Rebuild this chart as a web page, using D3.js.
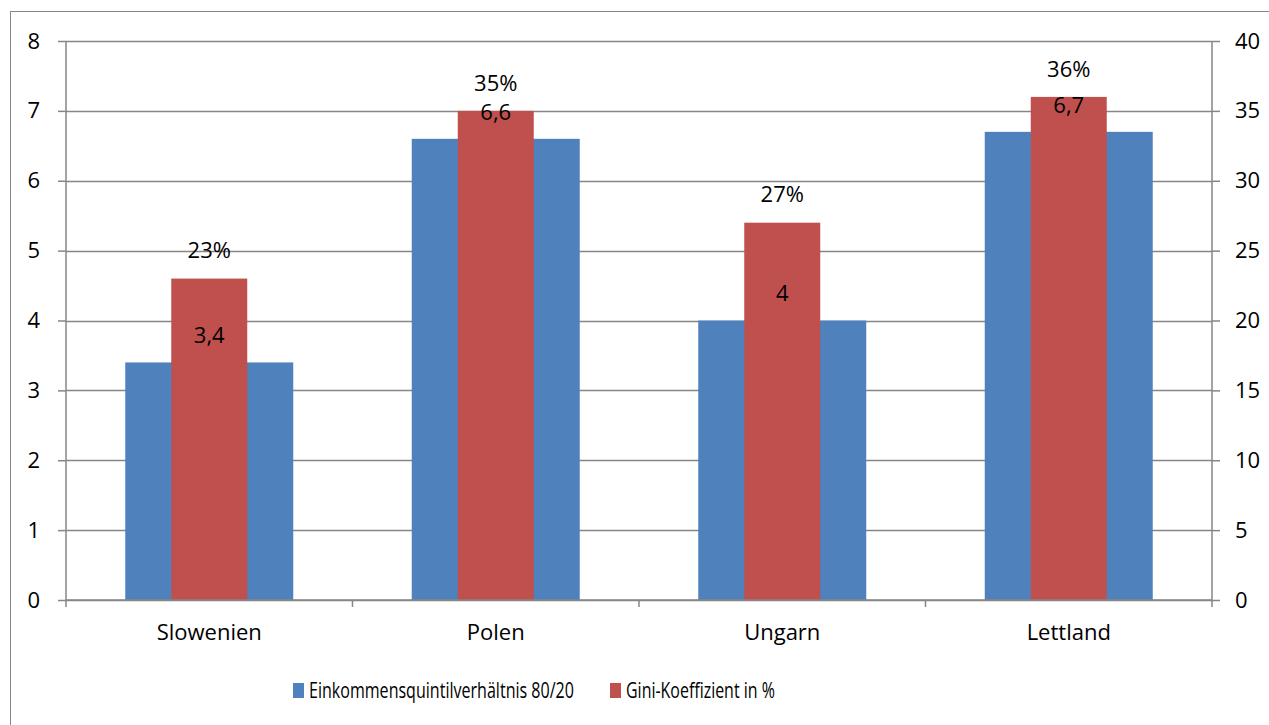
<!DOCTYPE html>
<html>
<head>
<meta charset="utf-8">
<script src="https://cdn.jsdelivr.net/npm/d3@7"></script>
<style>
  body { margin: 0; background: #fff; }
  text { font-family: "Open Sans", sans-serif; fill: #000; }
</style>
</head>
<body>
<div id="chart"></div>
<script>
const countries = ['Slowenien', 'Polen', 'Ungarn', 'Lettland'];
const quintilRatio = [3.4, 6.6, 4, 6.7];
const giniPercent = [23, 35, 27, 36];
const leftTicks = [0, 1, 2, 3, 4, 5, 6, 7, 8];
const rightTicks = [0, 5, 10, 15, 20, 25, 30, 35, 40];
const seriesNames = ['Einkommensquintilverhältnis 80/20', 'Gini-Koeffizient in %'];

const width = 1269;
const height = 725;
const margin = { top: 41, right: 57, bottom: 125, left: 66 };
const blue = '#4F81BD';
const red = '#C0504D';
const gridColor = '#868686';
const fontSize = 22;

const svg = d3.select('#chart')
  .append('svg')
  .attr('width', width)
  .attr('height', height);

// outer chart frame
svg.append('rect')
  .attr('x', 10.5)
  .attr('y', 11.5)
  .attr('width', width)
  .attr('height', height)
  .attr('fill', 'none')
  .attr('stroke', gridColor)
  .attr('stroke-width', 1);

const innerW = width - margin.left - margin.right;
const innerH = height - margin.top - margin.bottom;

const g = svg.append('g')
  .attr('transform', `translate(${margin.left},${margin.top})`);

const x = d3.scaleBand()
  .domain(countries)
  .range([0, innerW]);

const yLeft = d3.scaleLinear().domain([0, 8]).range([innerH, 0]);
const yRight = d3.scaleLinear().domain([0, 40]).range([innerH, 0]);

// gridlines
g.selectAll('.grid')
  .data(leftTicks)
  .enter()
  .append('line')
  .attr('x1', 0)
  .attr('x2', innerW)
  .attr('y1', (d) => Math.round(yLeft(d)) + 0.5)
  .attr('y2', (d) => Math.round(yLeft(d)) + 0.5)
  .attr('stroke', gridColor)
  .attr('stroke-width', 1.5);

// bars: blue wide bar, red narrow bar on top
const blueW = 168;
const redW = 76;

g.selectAll('.blueBar')
  .data(countries)
  .enter()
  .append('rect')
  .attr('x', (d) => x(d) + x.bandwidth() / 2 - blueW / 2)
  .attr('y', (d, i) => yLeft(quintilRatio[i]))
  .attr('width', blueW)
  .attr('height', (d, i) => innerH - yLeft(quintilRatio[i]))
  .attr('fill', blue);

g.selectAll('.redBar')
  .data(countries)
  .enter()
  .append('rect')
  .attr('x', (d) => x(d) + x.bandwidth() / 2 - redW / 2)
  .attr('y', (d, i) => yRight(giniPercent[i]))
  .attr('width', redW)
  .attr('height', (d, i) => innerH - yRight(giniPercent[i]))
  .attr('fill', red);

// data labels
g.selectAll('.blueLabel')
  .data(countries)
  .enter()
  .append('text')
  .attr('x', (d) => x(d) + x.bandwidth() / 2)
  .attr('y', (d, i) => yLeft(quintilRatio[i]) - 27)
  .attr('dy', '0.35em')
  .attr('text-anchor', 'middle')
  .style('font-size', `${fontSize}px`)
  .text((d, i) => String(quintilRatio[i]).replace('.', ','));

g.selectAll('.redLabel')
  .data(countries)
  .enter()
  .append('text')
  .attr('x', (d) => x(d) + x.bandwidth() / 2)
  .attr('y', (d, i) => yRight(giniPercent[i]) - 28)
  .attr('dy', '0.35em')
  .attr('text-anchor', 'middle')
  .style('font-size', `${fontSize}px`)
  .text((d, i) => `${giniPercent[i]}%`);

// axes
const leftAxis = g.append('g')
  .call(d3.axisLeft(yLeft).tickValues(leftTicks).tickSize(8).tickPadding(18));
const rightAxis = g.append('g')
  .attr('transform', `translate(${innerW},0)`)
  .call(d3.axisRight(yRight).tickValues(rightTicks).tickSize(8).tickPadding(15));
const bottomAxis = g.append('g')
  .attr('transform', `translate(0,${innerH})`)
  .call(d3.axisBottom(x).tickSize(0).tickPadding(24));

// category separator ticks
g.selectAll('.sepTick')
  .data(d3.range(countries.length + 1))
  .enter()
  .append('line')
  .attr('x1', (d) => d * x.bandwidth())
  .attr('x2', (d) => d * x.bandwidth())
  .attr('y1', innerH)
  .attr('y2', innerH + 7)
  .attr('stroke', gridColor)
  .attr('stroke-width', 1.5);

[leftAxis, rightAxis, bottomAxis].forEach((a) => {
  a.selectAll('path, line').attr('stroke', gridColor).attr('stroke-width', 1.5);
  a.selectAll('text')
    .style('font-size', `${fontSize}px`)
    .style('font-family', '"Open Sans", sans-serif')
    .attr('fill', '#000');
});
leftAxis.select('.domain').attr('d', `M0,0V${innerH}`);
rightAxis.select('.domain').attr('d', `M0,0V${innerH}`);
bottomAxis.select('.domain').attr('d', `M0,0H${innerW}`);

// legend (text is horizontally condensed in the original)
const legend = svg.append('g')
  .attr('transform', 'translate(293,691)');
const legendX = [0, 317];
const legendTextW = [265, 149];
const legendColors = [blue, red];
seriesNames.forEach((name, i) => {
  legend.append('rect')
    .attr('x', legendX[i])
    .attr('y', -8)
    .attr('width', 11)
    .attr('height', 15)
    .attr('fill', legendColors[i]);
  const holder = legend.append('g');
  const t = holder.append('text')
    .attr('x', 0)
    .attr('y', 0)
    .attr('dy', '0.35em')
    .style('font-size', '21px')
    .text(name);
  const natural = t.node().getComputedTextLength();
  holder.attr('transform', `translate(${legendX[i] + 16},0) scale(${legendTextW[i] / natural},1)`);
});
</script>
</body>
</html>
